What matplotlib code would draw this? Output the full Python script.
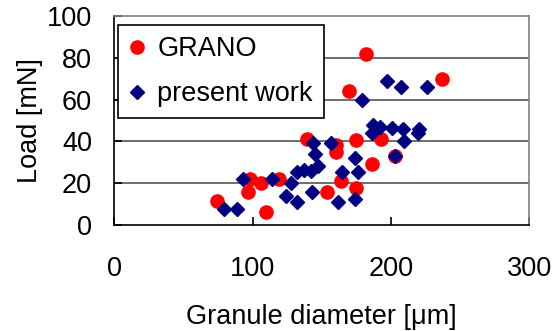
import matplotlib
matplotlib.use("Agg")
import matplotlib.pyplot as plt

plt.rcParams['font.family'] = ['Liberation Sans', 'DejaVu Sans']

# ---- GRANO reference measurements ----
grano_d = [74, 97, 98, 106, 110, 119, 139, 154, 160, 160, 164, 170, 175, 175, 182, 186, 193, 203, 237]
grano_load = [11.5, 16, 22, 20, 6, 22, 41, 16, 38.5, 35, 21, 64, 40.5, 17.5, 82, 29, 41, 33, 70]

# ---- present work ----
pw_d = [79, 88.5, 93, 114, 124, 128, 132, 132, 137, 142, 143, 144, 145, 147.5, 157, 162, 164.5,
        174, 174, 176, 179, 186, 187, 192, 197, 200.5, 203, 207, 209, 209.5, 219.5, 220, 226]
pw_load = [7.5, 7.5, 22, 22, 14, 20, 11, 25.5, 26.5, 26, 16, 39, 34, 28, 39, 11, 25.5,
           32, 12.5, 25.5, 60, 44, 48, 47, 69, 46.5, 33, 66, 46, 40, 44, 46, 66]

xticks = [0, 100, 200, 300]
yticks = [0, 20, 40, 60, 80, 100]

fig = plt.figure(figsize=(5.58, 3.31), dpi=100)
ax = fig.add_axes([0.2048, 0.3202, 0.7438, 0.6315])

ax.plot(grano_d, grano_load, 'o', color='#ff0000', markersize=9.5, linestyle='none',
        label='GRANO', zorder=3)
ax.plot(pw_d, pw_load, 'D', color='#000080', markersize=7.3, linestyle='none',
        label='present work', zorder=4)

ax.set_xlim(0, 300)
ax.set_ylim(0, 100)
ax.set_xticks(xticks)
ax.set_yticks(yticks)

for y in yticks[1:-1]:
    ax.axhline(y, color='#555555', linewidth=1.2, zorder=1)

ax.spines['top'].set_color('#808080')
ax.spines['right'].set_color('#808080')
ax.spines['left'].set_color('black')
ax.spines['bottom'].set_color('black')
for s in ax.spines.values():
    s.set_linewidth(1.2)

ax.tick_params(axis='both', direction='in', length=6, width=1.2, labelsize=19.5)
ax.tick_params(axis='x', pad=22)
ax.tick_params(axis='y', pad=16)

ax.set_xlabel('Granule diameter [\u03bcm]', fontsize=19.5, labelpad=16)
ax.set_ylabel('Load [mN]', fontsize=19.5, labelpad=3)

leg = ax.legend(loc='upper left', bbox_to_anchor=(0.009, 0.955), fontsize=19.5,
                frameon=True, fancybox=False, edgecolor='black', framealpha=1,
                handlelength=0.6, handletextpad=0.45, borderpad=0.4, labelspacing=0.7,
                borderaxespad=0)
leg.get_frame().set_linewidth(1.2)

fig.savefig('out.png', dpi=100)
